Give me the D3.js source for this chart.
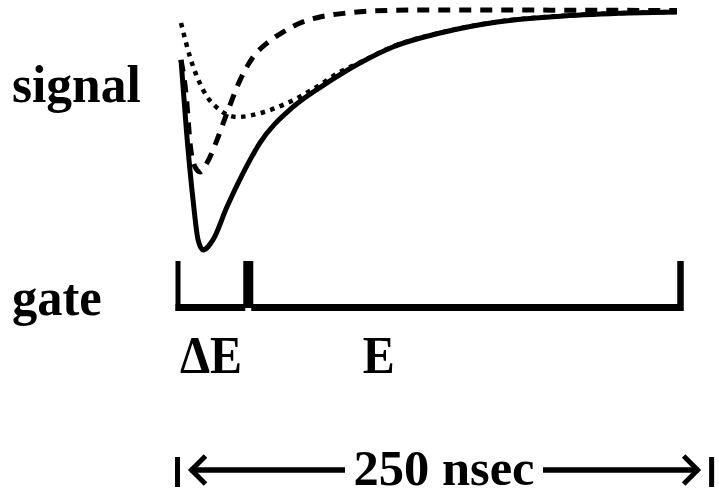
<!DOCTYPE html>
<html>
<head>
<meta charset="utf-8">
<script src="https://cdn.jsdelivr.net/npm/d3@7"></script>
<style>
  html, body { margin: 0; padding: 0; background: #fff; }
  svg { display: block; }
  text { font-family: "Liberation Serif", "Times New Roman", serif; font-weight: bold; fill: #000; }
</style>
</head>
<body>
<svg id="chart" width="719" height="495"></svg>
<script>
// ---- data (time in ns, signal in arbitrary units, 0 = baseline) ----
const solidT   = [1.5, 4.3, 7.5, 10, 12.5, 17.4, 24.4, 32.4, 40.8, 57.3, 74.2, 90.6, 107, 130.5, 159, 192, 225, 248.5];
const solidV   = [-20.8, -51.3, -79.2, -95.8, -100, -95.8, -82, -68, -55.4, -40.4, -30.4, -22.1, -15.4, -9.6, -5, -2.5, -1.25, -0.8];

const dashedT  = [1.5, 4.3, 6, 8.5, 11, 14.4, 19.4, 24.4, 30.9, 37.4, 44.3, 52.3, 60.8, 70.7, 84.2, 97, 117, 160, 200, 248.5];
const dashedV  = [-20.8, -37.5, -55.4, -65.4, -67.5, -63.8, -54.2, -42.9, -29.2, -19.6, -13.8, -9.2, -5.4, -2.9, -1.25, -0.4, 0, 0, -0.1, -0.2];

const dottedT  = [1.5, 6, 12.5, 20.9, 29.4, 40.8, 54.3, 67.2, 80.7, 92, 107, 130.5, 159, 192, 225, 248.5];
const dottedV  = [-5.4, -19.6, -33.3, -41.7, -44.6, -43, -38.8, -33, -25.8, -21.3, -15.2, -9.5, -4.9, -2.4, -1.2, -0.8];

const gateEdges   = [0, 35, 250];          // ns: gate start, ΔE/E boundary, gate end
const gateLabels  = ["ΔE", "E"];
const gateLabelT  = [1.5, 92.5];           // ns, left edge of each label
const rowLabels   = ["signal", "gate"];
const spanLabel   = "250 nsec";
const spanT       = [0, 266];              // ns extent of the span arrow

// ---- scales ----
const svg = d3.select("#chart");
const x = d3.scaleLinear().domain([0, 250]).range([178, 680]);
const y = d3.scaleLinear().domain([-100, 0]).range([250, 10]);

const line = d3.line().x(d => x(d[0])).y(d => y(d[1])).curve(d3.curveMonotoneX);
const zip = (a, b) => a.map((v, i) => [v, b[i]]);

// dotted
svg.append("path").datum(zip(dottedT, dottedV))
  .attr("d", line).attr("fill", "none").attr("stroke", "#000")
  .attr("stroke-width", 4.5).attr("stroke-dasharray", "4.5,5.5");
// dashed
svg.append("path").datum(zip(dashedT, dashedV))
  .attr("d", line).attr("fill", "none").attr("stroke", "#000")
  .attr("stroke-width", 5).attr("stroke-dasharray", "12,9");
// solid
svg.append("path").datum(zip(solidT, solidV))
  .attr("d", line).attr("fill", "none").attr("stroke", "#000")
  .attr("stroke-width", 5).attr("stroke-linejoin", "round");

// ---- gate bracket ----
const gTop = 261, gBot = 311, gLineY = 307.5;
const g = svg.append("g");
g.append("line").attr("x1", x(gateEdges[0]) - 2.5).attr("x2", x(gateEdges[1]) - 3)
  .attr("y1", gLineY).attr("y2", gLineY).attr("stroke", "#000").attr("stroke-width", 7);
g.append("line").attr("x1", x(gateEdges[1]) + 3).attr("x2", x(gateEdges[2]) + 3)
  .attr("y1", gLineY).attr("y2", gLineY).attr("stroke", "#000").attr("stroke-width", 7);
[gateEdges[0], gateEdges[2]].forEach((t, i) => {
  g.append("line").attr("x1", x(t) + (i ? 0.5 : 0)).attr("x2", x(t) + (i ? 0.5 : 0))
    .attr("y1", gTop).attr("y2", gBot).attr("stroke", "#000").attr("stroke-width", i ? 6.5 : 5);
});
g.append("rect").attr("x", x(gateEdges[1]) - 5).attr("width", 10)
  .attr("y", gTop).attr("height", 47).attr("fill", "#000");

// ---- labels ----
function label(txt, tx, ty, size, anchor, sy) {
  svg.append("text")
    .attr("transform", `translate(${tx},${ty}) scale(1,${sy || 1})`)
    .attr("text-anchor", anchor || "start")
    .style("font-size", size + "px")
    .text(txt);
}
label(rowLabels[0], 12, 102, 51.5, "start", 1.02);
label(rowLabels[1], 12, 315, 50.5, "start", 1.05);
gateLabels.forEach((s, i) => label(s, x(gateLabelT[i]) - 1, 373, 48, "start", 1.12));

// ---- span arrow ----
const aY = 470;
const xl = x(spanT[0]) - 0.5, xr = x(spanT[1]) - 0.5;
const textMid = (xl + xr) / 2 - 0.5;
label(spanLabel, textMid, 484.5, 50.5, "middle", 1);
const a = svg.append("g").attr("stroke", "#000").attr("fill", "none");
a.append("line").attr("x1", xl).attr("x2", xl).attr("y1", 457).attr("y2", 487).attr("stroke-width", 5);
a.append("line").attr("x1", xr).attr("x2", xr).attr("y1", 457).attr("y2", 487).attr("stroke-width", 5);
a.append("line").attr("x1", xl + 13).attr("x2", 345).attr("y1", aY).attr("y2", aY).attr("stroke-width", 5.5);
a.append("line").attr("x1", 543).attr("x2", xr - 13).attr("y1", aY).attr("y2", aY).attr("stroke-width", 5.5);
a.append("path").attr("d", `M${xl + 28},${aY - 14} L${xl + 14},${aY} L${xl + 28},${aY + 14}`)
  .attr("stroke-width", 5).attr("stroke-linejoin", "miter");
a.append("path").attr("d", `M${xr - 28},${aY - 14} L${xr - 14},${aY} L${xr - 28},${aY + 14}`)
  .attr("stroke-width", 5).attr("stroke-linejoin", "miter");
</script>
</body>
</html>
